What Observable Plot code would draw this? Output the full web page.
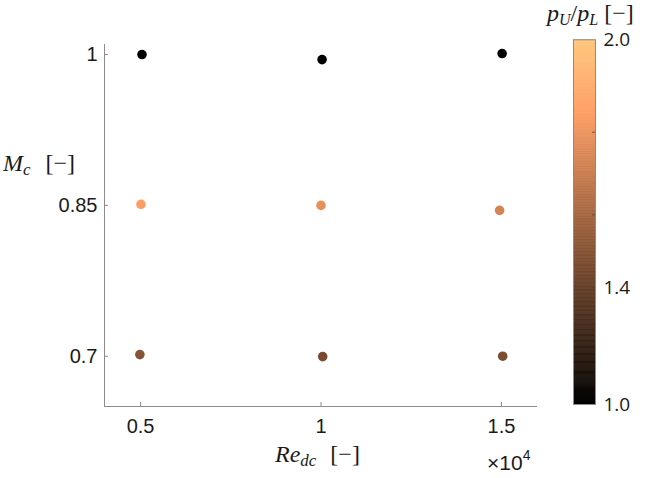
<!DOCTYPE html>
<html><head><meta charset="utf-8">
<script src="https://cdn.jsdelivr.net/npm/d3@7"></script>
<script src="https://cdn.jsdelivr.net/npm/@observablehq/plot@0.6"></script>
<style>
body{margin:0;background:#fff;}
#wrap{position:relative;width:645px;height:478px;overflow:hidden;}
#wrap svg{position:absolute;left:0;top:0;}
</style></head><body><div id="wrap"></div>
<script>
// ---- data ----
const pointRe    = [5039, 10030, 15020, 5010, 10000, 14950, 4980, 10047, 15036];
const pointMc    = [1.000, 0.995, 1.001, 0.851, 0.850, 0.845, 0.7016, 0.6996, 0.700];
const pointRatio = [1.00, 1.00, 1.00, 1.84, 1.78, 1.73, 1.50, 1.46, 1.47];
const xTicks = [5000, 10000, 15000];
const xTickLabels = ["0.5", "1", "1.5"];
const yTicks = [0.7, 0.85, 1];
const yTickLabels = ["0.7", "0.85", "1"];
const xDomain = [4000, 16000];
const yDomain = [0.65, 1.01];
const cbDomain = [1.0, 2.0];
const cbLabelTicks = [1.0, 1.4, 2.0];
const cbMinorTicks = [1.4, 1.6, 1.8];

const points = pointRe.map((re, i) => ({re, mc: pointMc[i], ratio: pointRatio[i]}));

// MATLAB "copper" colormap
const copper = t => `rgb(${Math.round(255*Math.min(1, 1.25*t))},${Math.round(255*0.7812*t)},${Math.round(255*0.4975*t)})`;
const colorScale = {type: "pow", exponent: 2, domain: cbDomain, interpolate: copper};

const W = 645, H = 478;
const mL = 104, mR = 108, mT = 44, mB = 72;
const frameW = W - mL - mR, frameH = H - mT - mB;
const axisGray = "#8c8c8c";

const main = Plot.plot({
  width: W, height: H,
  marginLeft: mL, marginRight: mR, marginTop: mT, marginBottom: mB,
  style: {fontFamily: "'Liberation Sans', Arial, sans-serif", fontSize: "20px", color: "#1a1a1a", background: "transparent"},
  x: {domain: xDomain},
  y: {domain: yDomain},
  color: colorScale,
  marks: [
    Plot.gridX({ticks: xTicks, stroke: axisGray, strokeOpacity: 1, insetTop: frameH - 4}),
    Plot.gridY({ticks: yTicks, stroke: axisGray, strokeOpacity: 1, insetRight: frameW - 4}),
    Plot.ruleY([yDomain[0]], {stroke: axisGray}),
    Plot.ruleX([xDomain[0]], {stroke: axisGray}),
    Plot.axisX({ticks: xTicks, tickSize: 0, tickPadding: 12, tickFormat: d => xTickLabels[xTicks.indexOf(d)], label: null}),
    Plot.axisY({ticks: yTicks, tickSize: 0, tickPadding: 7, tickFormat: d => yTickLabels[yTicks.indexOf(d)], label: null}),
    Plot.dot(points, {x: "re", y: "mc", fill: "ratio", r: 4.8})
  ]
});
document.getElementById("wrap").appendChild(main);

// colorbar (second Plot sharing the same colour scale)
const cbLeft = 573, cbBarW = 22, cbTop = 39.3, cbBottom = 404;
const cbStep = 0.004;
const cbSteps = d3.range(cbDomain[0], cbDomain[1], cbStep);
const cb = Plot.plot({
  width: 72, height: H,
  marginLeft: 0, marginRight: 72 - cbBarW, marginTop: cbTop, marginBottom: H - cbBottom,
  style: {fontFamily: "'Open Sans', 'Noto Sans', sans-serif", fontSize: "19px", color: "#1a1a1a", background: "transparent"},
  x: {domain: [0, 1], axis: null},
  y: {type: "pow", exponent: 2, domain: cbDomain, axis: null},
  color: colorScale,
  marks: [
    Plot.rect(cbSteps, {x1: 0, x2: 1, y1: d => d, y2: d => Math.min(cbDomain[1], d + cbStep), fill: d => d, stroke: d => d, strokeWidth: 0.6}),
    Plot.frame({stroke: axisGray}),
    Plot.gridY({ticks: cbMinorTicks, stroke: "#444", strokeOpacity: 0.8, insetLeft: cbBarW - 3}),
    Plot.axisY({anchor: "right", ticks: cbLabelTicks, tickSize: 0, tickPadding: 8, tickFormat: d3.format(".1f"), label: null})
  ]
});
cb.style.left = cbLeft + "px";
document.getElementById("wrap").appendChild(cb);

// axis titles (LaTeX-like, with sub/superscripts)
const svg = d3.select(main);
const serif = "'Liberation Serif', 'DejaVu Serif', serif";
function label(x, y, parts, family, size) {
  const t = svg.append("text").attr("x", x).attr("y", y).attr("text-anchor", "start")
    .attr("font-family", family).attr("font-size", size).attr("fill", "#1a1a1a");
  parts.forEach(p => {
    const s = t.append("tspan").text(p.t);
    if (p.i) s.attr("font-style", "italic");
    if (p.fs) s.attr("font-size", p.fs);
    if (p.dy) s.attr("dy", p.dy);
    if (p.dx) s.attr("dx", p.dx);
  });
}
label(3, 171, [{t: "M", i: 1}, {t: "c", i: 1, fs: 17, dy: 4}, {t: "[−]", dx: 15, dy: -4}], serif, 24);
label(275, 462, [{t: "Re", i: 1}, {t: "dc", i: 1, fs: 17, dy: 4}, {t: "[−]", dx: 14, dy: -4}], serif, 24);
label(487, 470, [{t: "×10"}, {t: "4", fs: 14, dy: -10}], "'Liberation Sans', Arial, sans-serif", 21);
label(547, 21, [{t: "p", i: 1}, {t: "U", i: 1, fs: 16, dy: 4}, {t: "/", dy: -4}, {t: "p", i: 1}, {t: "L", i: 1, fs: 16, dy: 4}, {t: "[−]", dx: 6, dy: -4}], serif, 24);
</script>
</body></html>
